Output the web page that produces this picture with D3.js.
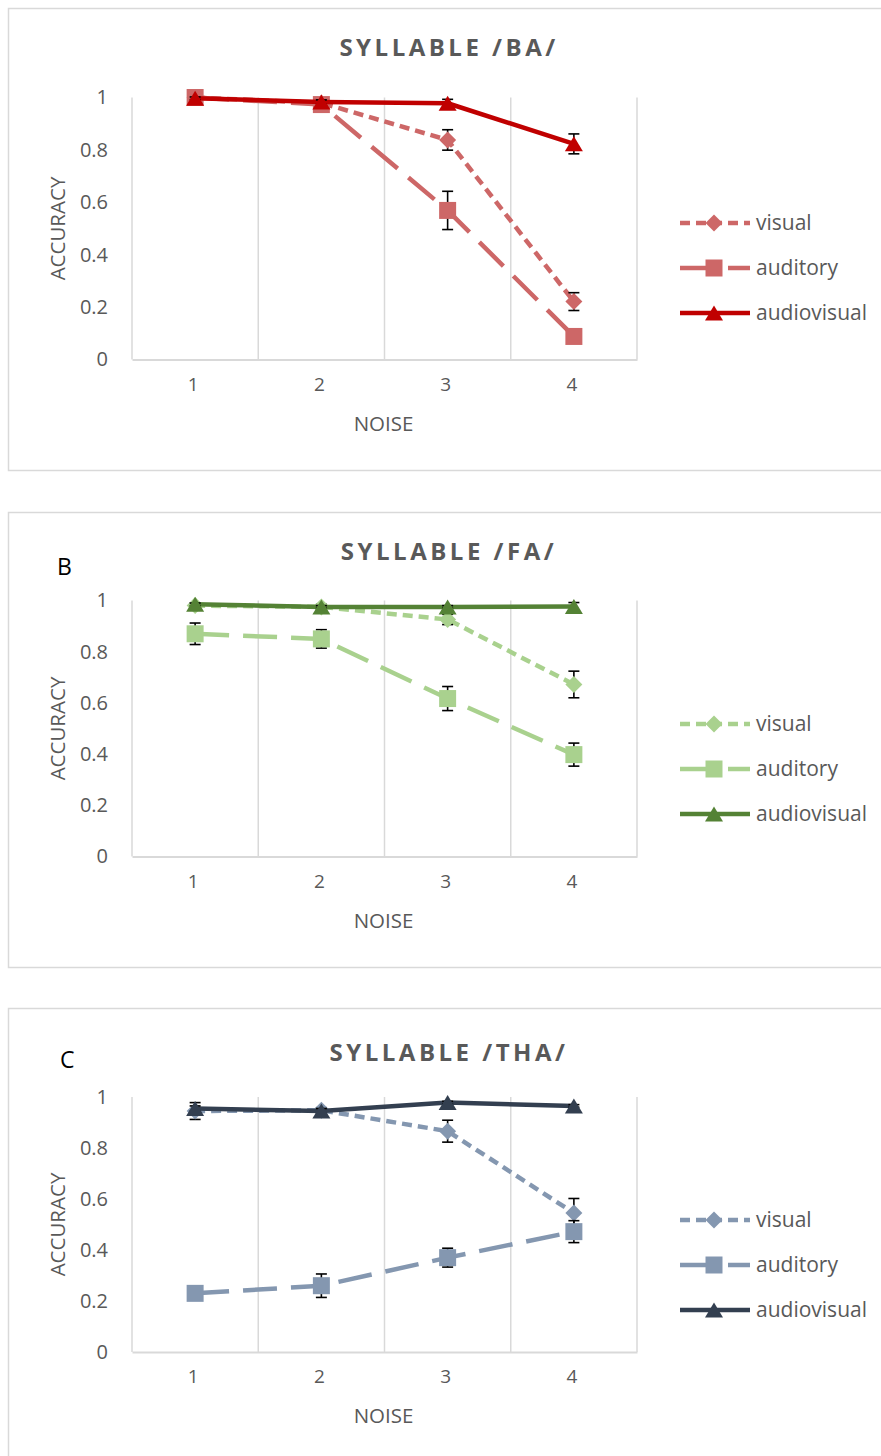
<!DOCTYPE html>
<html>
<head>
<meta charset="utf-8">
<script src="https://cdn.jsdelivr.net/npm/d3@7"></script>
<style>
  body { margin: 0; background: #fff; }
  text { font-family: "Open Sans", "Noto Sans", sans-serif; }
</style>
</head>
<body>
<svg id="fig" width="881" height="1456"></svg>
<script>
// ---- data -------------------------------------------------------------
const noiseLevels = ["1", "2", "3", "4"];
const accuracyTicks = [0, 0.2, 0.4, 0.6, 0.8, 1];
const seriesNames = ["visual", "auditory", "audiovisual"];

// syllable /BA/
const baVisual         = [1.000, 0.979, 0.838, 0.221];
const baVisualErr      = [0.005, 0.010, 0.039, 0.034];
const baAuditory       = [1.000, 0.973, 0.569, 0.088];
const baAuditoryErr    = [0.005, 0.010, 0.073, 0.010];
const baAudiovisual    = [0.997, 0.983, 0.978, 0.823];
const baAudiovisualErr = [0.005, 0.008, 0.015, 0.038];

// syllable /FA/
const faVisual         = [0.980, 0.975, 0.926, 0.672];
const faVisualErr      = [0.010, 0.010, 0.020, 0.052];
const faAuditory       = [0.870, 0.850, 0.617, 0.398];
const faAuditoryErr    = [0.042, 0.036, 0.047, 0.045];
const faAudiovisual    = [0.985, 0.975, 0.975, 0.977];
const faAudiovisualErr = [0.005, 0.005, 0.005, 0.015];

// syllable /THA/
const thaVisual         = [0.945, 0.948, 0.866, 0.545];
const thaVisualErr      = [0.033, 0.010, 0.043, 0.057];
const thaAuditory       = [0.230, 0.260, 0.370, 0.472];
const thaAuditoryErr    = [0.005, 0.046, 0.037, 0.043];
const thaAudiovisual    = [0.955, 0.945, 0.978, 0.965];
const thaAudiovisualErr = [0.010, 0.010, 0.005, 0.005];

// ---- layout -----------------------------------------------------------
const panels = [
  { letter: "", title: "SYLLABLE /BA/", boxTop: 8, boxBottom: 470,
    yTop: 97.5, yBottom: 359.5, titleY: 47,
    values: [baVisual, baAuditory, baAudiovisual],
    errors: [baVisualErr, baAuditoryErr, baAudiovisualErr],
    colors: ["#CD6767", "#CD6767", "#C00000"], legendY: [223, 268, 313] },
  { letter: "B", letterX: 57, letterY: 567, title: "SYLLABLE /FA/", boxTop: 512, boxBottom: 967,
    yTop: 600.5, yBottom: 856.5, titleY: 551,
    values: [faVisual, faAuditory, faAudiovisual],
    errors: [faVisualErr, faAuditoryErr, faAudiovisualErr],
    colors: ["#A9D18E", "#A9D18E", "#548235"], legendY: [724, 769, 814] },
  { letter: "C", letterX: 60, letterY: 1060, title: "SYLLABLE /THA/", boxTop: 1008, boxBottom: 1480,
    yTop: 1097, yBottom: 1352, titleY: 1052,
    values: [thaVisual, thaAuditory, thaAudiovisual],
    errors: [thaVisualErr, thaAuditoryErr, thaAudiovisualErr],
    colors: ["#8497B0", "#8497B0", "#333F50"], legendY: [1220, 1265, 1310] }
];

const plotLeft = 132, plotRight = 637;
const gridColor = "#D9D9D9";
const textColor = "#595959";
const lineWidth = 4.5;
const dashes = ["10,6", "34,14", null];
const markerKinds = ["diamond", "square", "triangle"];

// marker outlines centred on (0,0)
function markerPath(kind) {
  if (kind === "diamond") { const r = 8.5; return `M0,${-r}L${r},0L0,${r}L${-r},0Z`; }
  if (kind === "square")  { const h = 8.5; return `M${-h},${-h}H${h}V${h}H${-h}Z`; }
  const w = 9, h = 7.5; return `M0,${-h}L${w},${h}L${-w},${h}Z`;
}

const svg = d3.select("#fig");
svg.append("rect").attr("width", 881).attr("height", 1456).attr("fill", "#fff");

panels.forEach(p => {
  const g = svg.append("g");

  // chart frame
  g.append("rect")
    .attr("x", 8.5).attr("y", p.boxTop + 0.5)
    .attr("width", 900).attr("height", p.boxBottom - p.boxTop)
    .attr("fill", "none").attr("stroke", gridColor).attr("stroke-width", 1.5);

  const x = d3.scaleBand().domain(noiseLevels).range([plotLeft, plotRight]);
  const y = d3.scaleLinear().domain([0, 1]).range([p.yBottom, p.yTop]);

  // vertical gridlines at category boundaries
  const bounds = noiseLevels.map(d => x(d)).concat([plotRight]);
  g.selectAll("line.grid").data(bounds).join("line")
    .attr("class", "grid")
    .attr("x1", d => d).attr("x2", d => d)
    .attr("y1", y(1)).attr("y2", y(0))
    .attr("stroke", gridColor).attr("stroke-width", 1.5);

  // horizontal category axis
  const xAxis = g.append("g").attr("transform", `translate(0,${y(0)})`)
    .call(d3.axisBottom(x).tickSize(0).tickPadding(20));
  xAxis.select(".domain").attr("stroke", gridColor).attr("stroke-width", 2);
  xAxis.selectAll("text").attr("fill", textColor).attr("font-size", 19)
    .attr("font-family", "'Open Sans', sans-serif").attr("dx", -2).attr("dy", "0.6em");

  // value axis (labels only)
  const yAxis = g.append("g").attr("transform", `translate(${plotLeft},0)`)
    .call(d3.axisLeft(y).tickValues(accuracyTicks).tickFormat(d3.format("~g")).tickSize(0).tickPadding(24));
  yAxis.select(".domain").remove();
  yAxis.selectAll("text").attr("fill", textColor).attr("font-size", 20)
    .attr("font-family", "'Open Sans', sans-serif");

  // axis titles
  g.append("text")
    .attr("x", (plotLeft + plotRight) / 2 - 1).attr("y", y(0) + 64)
    .attr("text-anchor", "middle").attr("dy", "0.35em")
    .attr("fill", textColor).attr("font-size", 20.5).text("NOISE");
  g.append("text")
    .attr("transform", `translate(58,${(y(0) + y(1)) / 2}) rotate(-90)`)
    .attr("text-anchor", "middle").attr("dy", "0.35em")
    .attr("fill", textColor).attr("font-size", 20.5).text("ACCURACY");

  // chart title
  g.append("text")
    .attr("x", 449).attr("y", p.titleY).attr("dy", "0.36em")
    .attr("text-anchor", "middle").attr("fill", textColor)
    .attr("font-size", 24).attr("font-weight", 700).attr("letter-spacing", 3.5)
    .text(p.title);

  // panel letter
  if (p.letter) {
    g.append("text")
      .attr("x", p.letterX).attr("y", p.letterY).attr("dy", "0.36em")
      .attr("fill", "#000").attr("font-size", 23).text(p.letter);
  }

  const line = d3.line()
    .x((d, i) => x(noiseLevels[i]) + x.bandwidth() / 2)
    .y(d => y(d));

  // series: line, error bars, markers (audiovisual last, on top)
  seriesNames.forEach((name, s) => {
    const vals = p.values[s], errs = p.errors[s], col = p.colors[s];
    const sg = g.append("g");

    sg.append("path").datum(vals)
      .attr("d", line).attr("fill", "none")
      .attr("stroke", col).attr("stroke-width", lineWidth)
      .attr("stroke-linejoin", "round")
      .attr("stroke-dasharray", dashes[s]);

    const pts = vals.map((v, i) => ({ cx: x(noiseLevels[i]) + x.bandwidth() / 2, v, e: errs[i] }));

    const eb = sg.selectAll("g.err").data(pts).join("g").attr("class", "err")
      .attr("stroke", "#000").attr("stroke-width", 1.6);
    eb.append("line").attr("x1", d => d.cx).attr("x2", d => d.cx)
      .attr("y1", d => y(d.v + d.e)).attr("y2", d => y(d.v - d.e));
    eb.append("line").attr("x1", d => d.cx - 5.5).attr("x2", d => d.cx + 5.5)
      .attr("y1", d => y(d.v + d.e)).attr("y2", d => y(d.v + d.e));
    eb.append("line").attr("x1", d => d.cx - 5.5).attr("x2", d => d.cx + 5.5)
      .attr("y1", d => y(d.v - d.e)).attr("y2", d => y(d.v - d.e));

    sg.selectAll("path.mk").data(pts).join("path").attr("class", "mk")
      .attr("d", markerPath(markerKinds[s]))
      .attr("transform", d => `translate(${d.cx},${y(d.v)})`)
      .attr("fill", col);

    // legend entry
    const ly = p.legendY[s];
    g.append("line")
      .attr("x1", 680).attr("x2", 750).attr("y1", ly).attr("y2", ly)
      .attr("stroke", col).attr("stroke-width", lineWidth)
      .attr("stroke-dasharray", dashes[s]);
    g.append("path").attr("d", markerPath(markerKinds[s]))
      .attr("transform", `translate(714,${ly})`).attr("fill", col);
    g.append("text").attr("x", 756).attr("y", ly).attr("dy", "0.33em")
      .attr("fill", textColor).attr("font-size", 21).text(name);
  });
});
</script>
</body>
</html>
